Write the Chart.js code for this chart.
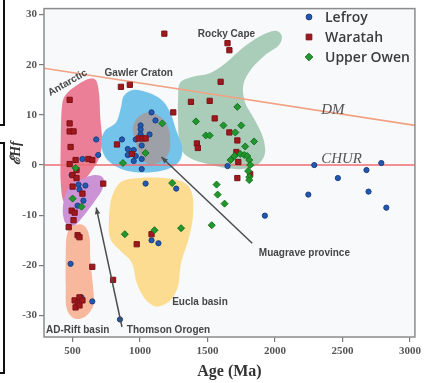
<!DOCTYPE html>
<html>
<head>
<meta charset="utf-8">
<script src="https://cdn.jsdelivr.net/npm/chart.js@4.4.0/dist/chart.umd.min.js"></script>
<style>
  html, body { margin: 0; padding: 0; background: #fff; }
  #wrap { width: 424px; height: 383px; position: relative; }
</style>
</head>
<body>
<div id="wrap"><canvas id="c" width="424" height="383"></canvas></div>
<script>
// ---- zircon εHf versus crystallisation age (Ma) ----
const xTicks = [500, 1000, 1500, 2000, 2500, 3000];
const yTicks = [-30, -20, -10, 0, 10, 20, 30];

const lefroy = [
  [1085,10.5],[1114,8.9],[1004,7.9],[1004,7.1],[1004,6.1],[1070,6.1],[968,5.1],[866,5.1],
  [1012,3.9],[909,3.2],[953,3.0],[909,2.0],[968,1.8],[1012,1.2],[953,0.8],[1012,-0.8],
  [690,2.0],[675,5.1],[573,1.2],[595,-4.1],[544,-3.9],[551,-4.9],[537,-8.1],[580,-7.1],
  [493,-2.0],[1648,-0.2],[2291,0.0],[2466,-2.6],[2678,-1.0],[2788,0.4],[2247,-5.9],
  [2693,-5.3],[2825,-8.5],[1925,-10.1],[1041,-3.7],[1268,-4.7],[1085,-15.0],[1136,-15.6],
  [851,-30.8],[485,-19.7],[566,-26.4],[646,-27.2]
];
const waratah = [
  [1180,26.2],[1648,24.3],[1662,22.9],[1597,16.6],[858,15.6],[924,16.0],[478,13.0],[478,8.3],
  [478,6.7],[507,6.7],[485,3.6],[478,0.2],[522,1.0],[617,1.2],[646,1.0],[529,-1.0],[500,-2.0],
  [529,-2.6],[829,4.1],[939,2.2],[990,5.3],[1019,5.3],[1041,5.3],[1246,10.5],[1377,12.6],
  [1516,12.8],[1553,9.3],[1662,6.5],[1421,4.3],[1428,3.4],[1721,4.9],[1714,2.6],[1728,0.6],
  [1816,-1.8],[1721,-2.6],[727,-3.7],[500,-4.3],[573,-5.7],[493,-9.1],[515,-9.5],[507,-11.0],
  [471,-12.4],[537,-14.0],[551,-14.4],[646,-20.3],[800,-22.9],[1085,-13.8],[975,-15.8],
  [515,-27.0],[551,-26.4],[537,-27.6],[573,-27.0],[522,-28.4],[551,-28.0]
];
const upperOwen = [
  [1165,8.3],[1041,2.4],[873,0.4],[1414,8.7],[1487,5.9],[1516,5.9],[1721,11.6],[1618,7.9],
  [1750,7.9],[1706,6.5],[1845,4.7],[1779,3.7],[1670,1.0],[1699,1.8],[1743,2.2],[1772,2.0],
  [1794,1.8],[1809,1.0],[1816,0.0],[1801,-1.2],[1809,-2.4],[1809,-3.0],[1238,-3.6],
  [1567,-3.9],[1575,-5.9],[1626,-7.7],[1531,-12.0],[887,-13.8],[1107,-13.0],[1304,-12.6],
  [522,-0.6],[500,-6.7],[566,-8.3]
];

// reference evolution lines
const dmLine = [[288,19.3],[3037,7.9]];
const churLine = [[288,0],[3037,0]];

// source-region fields (age, εHf outlines)
const euclaField = [[858,-3.4],[990,-2.6],[1173,-2.6],[1319,-3.4],[1385,-5.7],[1392,-10.3],[1355,-15.2],
  [1304,-19.5],[1282,-24.1],[1224,-27.0],[1121,-28.2],[1034,-26.6],[975,-23.5],[939,-19.5],
  [858,-17.2],[778,-14.6],[770,-10.3],[792,-6.3]];
const adRiftField = [[493,-12.2],[580,-12.0],[624,-14.2],[632,-19.1],[654,-25.0],[654,-28.0],
  [595,-30.2],[515,-30.6],[456,-28.6],[449,-24.1],[449,-18.1],[456,-14.2]];
const antarcticField = [[420,11.4],[449,14.0],[537,16.0],[624,17.2],[675,16.8],[697,14.0],[705,9.5],
  [719,4.5],[690,1.0],[624,-1.8],[551,-4.3],[493,-7.3],[434,-7.3],[412,-3.4],[412,4.5]];
const thomsonField = [[551,-3.0],[661,-2.0],[727,-2.6],[719,-4.9],[661,-7.3],[588,-9.9],[515,-12.0],
  [449,-11.6],[427,-8.9],[449,-5.7],[493,-3.7]];
const rockyCapeField = [[1297,16.4],[1392,17.6],[1516,18.3],[1633,20.3],[1757,23.3],[1882,25.6],
  [1999,26.8],[2050,25.8],[2028,23.9],[1925,21.9],[1823,19.1],[1765,16.0],[1779,12.4],[1852,8.9],
  [1911,5.5],[1925,2.2],[1867,0.0],[1757,-0.8],[1633,-0.6],[1501,0.2],[1370,1.4],[1297,3.6],
  [1282,8.5],[1282,13.4]];
const gawlerField = [[880,13.8],[953,15.0],[1063,14.4],[1158,13.0],[1224,10.5],[1268,6.9],[1311,3.6],
  [1297,1.0],[1224,-0.6],[1099,-1.4],[953,-1.4],[829,-0.4],[741,1.6],[712,4.5],[741,6.9],
  [822,8.5],[858,11.4]];
const musgraveField = [[990,9.7],[1077,10.5],[1158,9.5],[1209,7.5],[1224,4.5],[1209,2.2],[1151,0.6],
  [1063,0.2],[1004,1.6],[968,4.5],[946,7.5]];

const toXY = arr => arr.map(p => ({ x: p[0], y: p[1] }));

const fields = [
  { shape: euclaField, color: '#fcdc90' },
  { shape: adRiftField, color: '#f7b89d' },
  { shape: antarcticField, color: '#ec7f98' },
  { shape: thomsonField, color: '#cc92d6' },
  { shape: rockyCapeField, color: '#aacdba' },
  { shape: gawlerField, color: '#74c3ea' },
  { shape: musgraveField, color: '#9ea0a8' }
];

const notes = [
  { text: 'Rocky Cape', at: [1640, 26.0], align: 'center' },
  { text: 'Gawler Craton', at: [990, 18.3], align: 'center' },
  { text: 'Antarctic', at: [463, 16.4], align: 'center', rot: -30 },
  { text: 'Muagrave province', at: [2218, -17.6], align: 'center' },
  { text: 'Eucla basin', at: [1238, -27.4], align: 'left' },
  { text: 'AD-Rift basin', at: [303, -32.9], align: 'left' },
  { text: 'Thomson Orogen', at: [902, -32.9], align: 'left' }
];
const pointers = [
  { from: [1831, -15.6], to: [1158, 1.6] },
  { from: [866, -32.3], to: [675, -8.5] }
];

function smoothClosed(ctx, pts) {
  const n = pts.length;
  ctx.beginPath();
  ctx.moveTo(pts[0][0], pts[0][1]);
  for (let i = 0; i < n; i++) {
    const p0 = pts[(i - 1 + n) % n], p1 = pts[i], p2 = pts[(i + 1) % n], p3 = pts[(i + 2) % n];
    ctx.bezierCurveTo(
      p1[0] + (p2[0] - p0[0]) / 6, p1[1] + (p2[1] - p0[1]) / 6,
      p2[0] - (p3[0] - p1[0]) / 6, p2[1] - (p3[1] - p1[1]) / 6,
      p2[0], p2[1]);
  }
  ctx.closePath();
}

const backdrop = {
  id: 'backdrop',
  beforeDraw(chart) {
    const { ctx, chartArea: a } = chart;
    ctx.save();
    ctx.fillStyle = '#f8f9fb';
    ctx.fillRect(a.left, a.top, a.right - a.left, a.bottom - a.top);
    // edges of the neighbouring panels
    ctx.strokeStyle = '#111';
    ctx.lineWidth = 2;
    ctx.beginPath();
    ctx.moveTo(4, 0); ctx.lineTo(4, 125); ctx.lineTo(0, 125);
    ctx.moveTo(0, 143); ctx.lineTo(4, 143); ctx.lineTo(4, 373); ctx.lineTo(0, 373);
    ctx.stroke();
    ctx.restore();
  }
};

const fieldsPlugin = {
  id: 'fields',
  beforeDatasetsDraw(chart) {
    const { ctx, chartArea: a, scales: { x, y } } = chart;
    ctx.save();
    ctx.beginPath();
    ctx.rect(a.left, a.top, a.right - a.left, a.bottom - a.top);
    ctx.clip();
    fields.forEach(f => {
      const pts = f.shape.map(p => [x.getPixelForValue(p[0]), y.getPixelForValue(p[1])]);
      smoothClosed(ctx, pts);
      ctx.fillStyle = f.color;
      ctx.fill();
    });
    ctx.restore();
  }
};

const overlay = {
  id: 'overlay',
  afterDatasetsDraw(chart) {
    const { ctx, chartArea: a, scales: { x, y } } = chart;
    ctx.save();
    // pointers
    ctx.strokeStyle = '#4d4d4d';
    ctx.fillStyle = '#4d4d4d';
    ctx.lineWidth = 1.5;
    pointers.forEach(p => {
      const x0 = x.getPixelForValue(p.from[0]), y0 = y.getPixelForValue(p.from[1]);
      const x1 = x.getPixelForValue(p.to[0]), y1 = y.getPixelForValue(p.to[1]);
      ctx.beginPath(); ctx.moveTo(x0, y0); ctx.lineTo(x1, y1); ctx.stroke();
      const ang = Math.atan2(y1 - y0, x1 - x0), L = 7, W = 0.4;
      ctx.beginPath();
      ctx.moveTo(x1, y1);
      ctx.lineTo(x1 - L * Math.cos(ang - W), y1 - L * Math.sin(ang - W));
      ctx.lineTo(x1 - L * Math.cos(ang + W), y1 - L * Math.sin(ang + W));
      ctx.closePath(); ctx.fill();
    });
    // field names
    ctx.fillStyle = '#464646';
    ctx.font = 'bold 10px "Liberation Sans", Arial, sans-serif';
    ctx.textBaseline = 'middle';
    notes.forEach(n => {
      const px = x.getPixelForValue(n.at[0]), py = y.getPixelForValue(n.at[1]);
      ctx.save();
      ctx.translate(px, py);
      if (n.rot) ctx.rotate(n.rot * Math.PI / 180);
      ctx.textAlign = n.align;
      ctx.fillText(n.text, 0, 0);
      ctx.restore();
    });
    // reference line names
    ctx.fillStyle = '#555';
    ctx.font = 'italic 15px "Liberation Serif", "Times New Roman", serif';
    ctx.textAlign = 'left';
    ctx.fillText('DM', x.getPixelForValue(2342), y.getPixelForValue(11.0));
    ctx.fillText('CHUR', x.getPixelForValue(2342), y.getPixelForValue(1.2));
    // frame
    ctx.strokeStyle = '#8c8c8c';
    ctx.lineWidth = 1.5;
    ctx.strokeRect(a.left, a.top, a.right - a.left, a.bottom - a.top);
    // legend
    const entries = chart.data.datasets.filter(d => d.inLegend);
    entries.forEach((d, i) => {
      const ly = 17 + i * 20;
      ctx.fillStyle = d.backgroundColor;
      ctx.strokeStyle = d.borderColor;
      ctx.lineWidth = d.borderWidth;
      Chart.helpers.drawPoint(ctx, { pointStyle: d.pointStyle, radius: d.pointRadius + 0.3,
        rotation: 0, borderWidth: d.borderWidth }, 309, ly);
      ctx.fillStyle = '#3c3c3c';
      ctx.font = '600 14px "Open Sans", sans-serif';
      ctx.textAlign = 'left';
      ctx.textBaseline = 'middle';
      ctx.fillText(d.label, 325, ly + 1);
    });
    // axis titles
    ctx.fillStyle = '#333';
    ctx.font = 'bold 16px "Liberation Serif", "Times New Roman", serif';
    ctx.textAlign = 'center';
    ctx.textBaseline = 'middle';
    ctx.fillText('Age (Ma)', (a.left + a.right) / 2, 372);
    ctx.save();
    ctx.translate(16, 153);
    ctx.rotate(-Math.PI / 2);
    ctx.font = 'bold italic 14px "Liberation Serif", "DejaVu Serif", serif';
    ctx.fillText('ℰHf', 0, 0);
    ctx.restore();
    ctx.restore();
  }
};

const tickFont = { family: '"Liberation Serif", "Times New Roman", serif', weight: 'bold', size: 11 };

new Chart(document.getElementById('c'), {
  type: 'scatter',
  data: {
    datasets: [
      { label: 'Lefroy', inLegend: true, data: toXY(lefroy), pointStyle: 'circle', pointRadius: 2.6,
        backgroundColor: '#2259b0', borderColor: '#1a3f85', borderWidth: 1, order: 3 },
      { label: 'Waratah', inLegend: true, data: toXY(waratah), pointStyle: 'rect', pointRadius: 3.7,
        backgroundColor: '#a0181d', borderColor: '#7c1216', borderWidth: 1, order: 2 },
      { label: 'Upper Owen', inLegend: true, data: toXY(upperOwen), pointStyle: 'rectRot', pointRadius: 3.5,
        backgroundColor: '#21982e', borderColor: '#187222', borderWidth: 1, order: 1 },
      { label: 'DM', type: 'line', data: toXY(dmLine), borderColor: '#f0a283', borderWidth: 1.6,
        pointRadius: 0, fill: false, order: 10 },
      { label: 'CHUR', type: 'line', data: toXY(churLine), borderColor: '#ef6e72', borderWidth: 1.6,
        pointRadius: 0, fill: false, order: 10 }
    ]
  },
  options: {
    responsive: false,
    animation: false,
    devicePixelRatio: 1,
    layout: { padding: { left: 0, top: 5, right: 4, bottom: 0 } },
    plugins: { legend: { display: false }, tooltip: { enabled: false } },
    scales: {
      x: {
        type: 'linear', min: 288, max: 3037,
        afterBuildTicks: s => { s.ticks = xTicks.map(v => ({ value: v })); },
        afterFit: s => { s.height = 46; },
        grid: { drawOnChartArea: false, drawTicks: true, tickLength: 5, color: '#7a7a7a', lineWidth: 1.2 },
        border: { display: false },
        ticks: { font: tickFont, color: '#555', padding: 3, maxRotation: 0, autoSkip: false,
          callback: v => String(v) }
      },
      y: {
        type: 'linear', min: -34.3, max: 31.2,
        afterBuildTicks: s => { s.ticks = yTicks.map(v => ({ value: v })); },
        afterFit: s => { s.width = 44; },
        grid: { drawOnChartArea: false, drawTicks: true, tickLength: 5, color: '#7a7a7a', lineWidth: 1.2 },
        border: { display: false },
        ticks: { font: tickFont, color: '#555', padding: 2, autoSkip: false,
          callback: v => String(v) }
      }
    }
  },
  plugins: [backdrop, fieldsPlugin, overlay]
});
</script>
</body>
</html>
